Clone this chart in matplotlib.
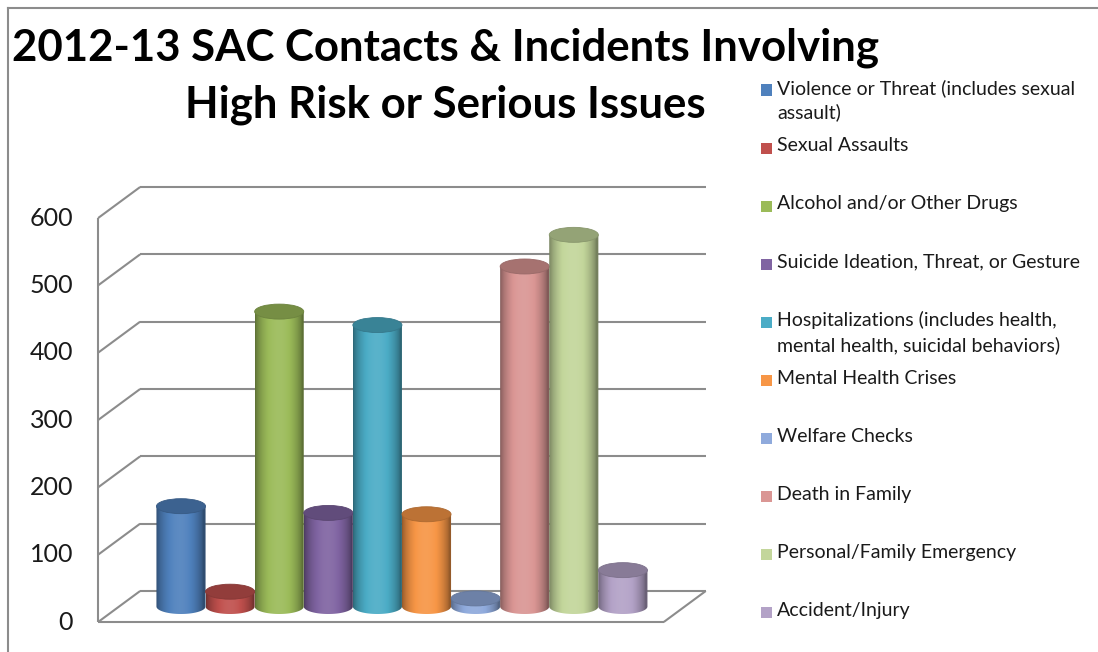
import numpy as np
import matplotlib
matplotlib.use("Agg")
import matplotlib.pyplot as plt
from matplotlib.patches import Ellipse, PathPatch, Rectangle
from matplotlib.path import Path
from matplotlib.lines import Line2D
from matplotlib.colors import to_rgb

plt.rcParams['font.family'] = ['Lato', 'DejaVu Sans']

# ---- data ----
categories = [
    "Violence or Threat (includes sexual\nassault)",
    "Sexual Assaults",
    "Alcohol and/or Other Drugs",
    "Suicide Ideation, Threat, or Gesture",
    "Hospitalizations (includes health,\nmental health, suicidal behaviors)",
    "Mental Health Crises",
    "Welfare Checks",
    "Death in Family",
    "Personal/Family Emergency",
    "Accident/Injury",
]
counts = [149, 22, 438, 139, 418, 137, 12, 505, 552, 54]
colors = ["#4F81BD", "#C0504D", "#9BBB59", "#8064A2", "#4BACC6",
          "#F79646", "#8FAADC", "#DA9694", "#C3D69B", "#B3A2C7"]
yticks = [0, 100, 200, 300, 400, 500, 600]
title_lines = ["2012-13 SAC Contacts & Incidents Involving",
               "High Risk or Serious Issues"]

# ---- layout (pixels) ----
W, H = 1098, 652
BAR_PX = 49.1        # width of one cylinder
X0_PX = 181          # centre of the first cylinder
ZERO_PX = 606.5      # baseline of the cylinders (mid-depth plane)
UNIT_PX = 0.6733     # pixels per count
DX_PX, DY_PX = 21, 15.5   # half depth of the 3-D box
SIDE_GAP = 0.76      # gap between box side and first/last cylinder (bar units)
ELL_PX = 15          # height of cylinder caps

fig = plt.figure(figsize=(W / 100, H / 100), dpi=100)
ax_l, ax_r, ax_t, ax_b = 90, 715, 170, 645
ax = fig.add_axes([ax_l / W, 1 - ax_b / H, (ax_r - ax_l) / W, (ax_b - ax_t) / H])
ax.axis('off')

dx = DX_PX / BAR_PX
dy = DY_PX / UNIT_PX
n = len(counts)
xl = -0.5 - SIDE_GAP
xr = n - 0.5 + SIDE_GAP
grid_kw = dict(color="#8c8c8c", lw=1.5, zorder=1, solid_capstyle='butt')

# back wall gridlines and left wall diagonals
for t in yticks:
    ax.plot([xl + dx, xr + dx], [t + dy, t + dy], **grid_kw)
    ax.plot([xl - dx, xl + dx], [t - dy, t + dy], **grid_kw)
    ax.annotate(str(t), (xl - dx, t - dy), xytext=(-18, 0),
                textcoords='offset points', ha='right', va='center',
                fontsize=18, color="#1a1a1a")
# floor front edge, right edge, front axis
ax.plot([xl - dx, xr - dx], [-dy, -dy], **grid_kw)
ax.plot([xr - dx, xr + dx], [-dy, dy], **grid_kw)
ax.plot([xl - dx, xl - dx], [-dy, yticks[-1] - dy], **grid_kw)


def shade(c, f):
    c = np.array(c)
    if f <= 1:
        return c * f
    return c + (1 - c) * (f - 1)


eh = ELL_PX / UNIT_PX
tt = np.linspace(0, 1, 64)
prof = 0.6 + 0.48 * np.sin(np.pi * np.clip(tt * 1.05, 0, 1)) ** 0.7
theta = np.linspace(np.pi, 2 * np.pi, 60)

for i, (v, c) in enumerate(zip(counts, colors)):
    rgb = to_rgb(c)
    x0, x1 = i - 0.5, i + 0.5
    bx = i + 0.5 * np.cos(theta)
    by = (eh / 2) * np.sin(theta)
    verts = list(zip(bx, by)) + [(x1, v), (x0, v), (bx[0], by[0])]
    codes = [Path.MOVETO] + [Path.LINETO] * (len(verts) - 2) + [Path.CLOSEPOLY]
    body = PathPatch(Path(verts, codes), facecolor='none', edgecolor='none',
                     transform=ax.transData)
    ax.add_patch(body)
    grad = np.array([[shade(rgb, f) for f in prof]])
    im = ax.imshow(grad, extent=[x0, x1, -eh / 2, v], aspect='auto',
                   interpolation='bilinear', zorder=3 + i)
    im.set_clip_path(body)
    top = Ellipse((i, v), 1.0, eh, facecolor=shade(rgb, 0.76),
                  edgecolor=shade(rgb, 0.7), lw=0.6, zorder=3.5 + i)
    ax.add_patch(top)

ax.set_xlim((ax_l - X0_PX) / BAR_PX, (ax_r - X0_PX) / BAR_PX)
ax.set_ylim((ZERO_PX - ax_b) / UNIT_PX, (ZERO_PX - ax_t) / UNIT_PX)

# title, one text per line
for k, line in enumerate(title_lines):
    fig.text(445 / W, 1 - (48 + 57 * k) / H, line, ha='center', va='center',
             fontsize=31.5, fontweight='bold', color='black')

# legend
for k, (lab, c) in enumerate(zip(categories, colors)):
    yc = 90 + 58.1 * k
    fig.add_artist(Rectangle((761 / W, 1 - (yc + 5.5) / H), 11 / W, 11 / H,
                             transform=fig.transFigure, facecolor=c,
                             edgecolor='none'))
    fig.text(777 / W, 1 - (yc - 11) / H, lab, ha='left', va='top',
             fontsize=14, linespacing=1.45, color="#1a1a1a")

# chart frame
fig.add_artist(Line2D([8 / W, 8 / W], [0, 1 - 8 / H], transform=fig.transFigure,
                      color="#8c8c8c", lw=1.5))
fig.add_artist(Line2D([8 / W, 1], [1 - 8 / H, 1 - 8 / H], transform=fig.transFigure,
                      color="#8c8c8c", lw=1.5))

fig.savefig("out.png", dpi=100, facecolor='white')
